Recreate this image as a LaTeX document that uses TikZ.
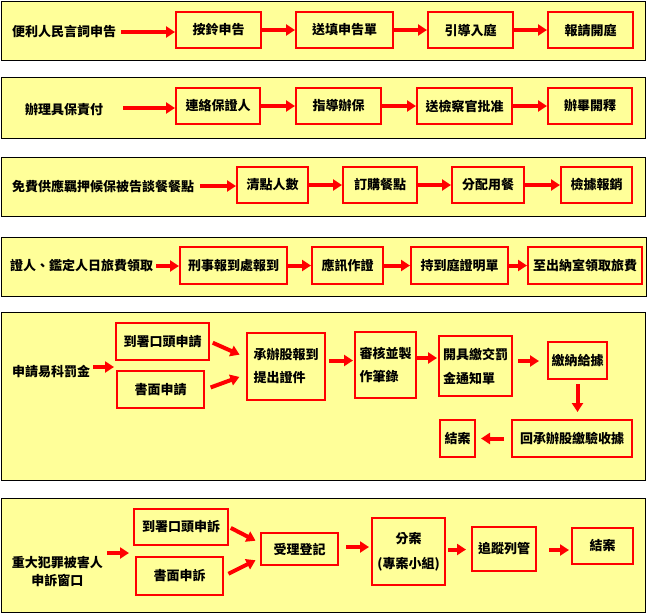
\documentclass[tikz,border=0pt]{standalone}
\usepackage{fontspec}
\setmainfont{Noto Sans CJK TC}
\usetikzlibrary{arrows.meta}
\definecolor{bg}{HTML}{FFFF99}
\definecolor{bx}{HTML}{FF0000}
\begin{document}
\begin{tikzpicture}[x=1pt,y=-1pt,
  frame/.style={draw=black, line width=1pt, fill=bg},
  box/.style={draw=bx, line width=2pt, fill=bg, inner sep=0pt,
    font=\fontsize{13}{16}\selectfont\bfseries},
  ttl/.style={inner sep=0pt, anchor=west, font=\fontsize{13}{16}\selectfont\bfseries},
  arr/.style={draw=bx, line width=4pt, -{Triangle[length=9pt,width=11pt]}},
]
\useasboundingbox (0,0) rectangle (651,614);
\fill[white] (0,0) rectangle (651,614);
% frames
\draw[frame] (1,1) rectangle (645.5,60);
\draw[frame] (1,77) rectangle (645.5,138);
\draw[frame] (1,157) rectangle (645.5,216);
\draw[frame] (1,237) rectangle (646,296);
\draw[frame] (1,312) rectangle (645.5,480);
\draw[frame] (1,498) rectangle (645.5,612);

% band 1
\node[ttl] (t1) at (12,32) {便利人民言詞申告};
\node[box, minimum width=85pt, minimum height=36pt] (b11) at (218.5,30) {按鈴申告};
\node[box, minimum width=97pt, minimum height=36pt] (b12) at (344.5,30) {送填申告單};
\node[box, minimum width=85pt, minimum height=36pt] (b13) at (470.5,30) {引導入庭};
\node[box, minimum width=85pt, minimum height=36pt] (b14) at (590.5,30) {報請開庭};
\draw[arr] ([xshift=5pt]t1.east) -- (t1.east -| b11.west);
\draw[arr] (b11) -- (b12);
\draw[arr] (b12) -- (b13);
\draw[arr] (b13) -- (b14);

% band 2
\node[ttl] (t2) at (25,110) {辦理具保責付};
\node[box, minimum width=84pt, minimum height=36pt] (b21) at (218,106) {連絡保證人};
\node[box, minimum width=85pt, minimum height=36pt] (b22) at (338.5,106) {指導辦保};
\node[box, minimum width=95pt, minimum height=36pt] (b23) at (464.5,106) {送檢察官批准};
\node[box, minimum width=84pt, minimum height=36pt] (b24) at (590,106) {辦畢開釋};
\draw[arr] ([shift={(20pt,2pt)}]t2.east) -- ([yshift=2pt]t2.east -| b21.west);
\draw[arr] (b21) -- (b22);
\draw[arr] (b22) -- (b23);
\draw[arr] (b23) -- (b24);

% band 3
\node[ttl] (t3) at (12,187) {免費供應羈押候保被告談餐餐點};
\node[box, minimum width=71pt, minimum height=36pt] (b31) at (272.5,185) {清點人數};
\node[box, minimum width=74pt, minimum height=36pt] (b32) at (380,185) {訂購餐點};
\node[box, minimum width=72pt, minimum height=36pt] (b33) at (488,185) {分配用餐};
\node[box, minimum width=71pt, minimum height=36pt] (b34) at (596.5,185) {檢據報銷};
\draw[arr] ([shift={(6pt,1pt)}]t3.east) -- ([yshift=1pt]t3.east -| b31.west);
\draw[arr] (b31) -- (b32);
\draw[arr] (b32) -- (b33);
\draw[arr] (b33) -- (b34);

% band 4
\node[ttl] (t4) at (10,266) {證人、鑑定人日旅費領取};
\node[box, minimum width=107pt, minimum height=37pt] (b41) at (233.5,265.5) {刑事報到處報到};
\node[box, minimum width=71pt, minimum height=37pt] (b42) at (347.5,265.5) {應訊作證};
\node[box, minimum width=97pt, minimum height=37pt] (b43) at (459.5,265.5) {持到庭證明單};
\node[box, minimum width=114pt, minimum height=37pt] (b44) at (585,265.5) {至出納室領取旅費};
\draw[arr] ([xshift=3pt]t4.east) -- (t4.east -| b41.west);
\draw[arr] (b41) -- (b42);
\draw[arr] (b42) -- (b43);
\draw[arr] (b43) -- (b44);

% band 5
\node[ttl] (t5) at (12,372) {申請易科罰金};
\coordinate (j5) at (114,367);
\node[box, minimum width=93pt, minimum height=37pt] (a5) at (162.5,341.5) {到署口頭申請};
\node[box, minimum width=87pt, minimum height=37pt] (b5) at (160.5,389.5) {書面申請};
\node[box, minimum width=78pt, minimum height=67pt, align=left,
  font=\fontsize{13}{23}\selectfont\bfseries] (c5) at (286,366.5) {承辦股報到\\提出證件};
\node[box, minimum width=61pt, minimum height=66pt, align=left,
  font=\fontsize{13}{23}\selectfont\bfseries] (d5) at (385.5,365) {審核並製\\作筆錄};
\node[box, minimum width=73pt, minimum height=60pt, align=left,
  font=\fontsize{13}{24}\selectfont\bfseries] (e5) at (475.5,366) {開具繳交罰\\金通知單};
\node[box, minimum width=59pt, minimum height=37pt] (f5) at (577.5,360.5) {繳納給據};
\node[box, minimum width=120pt, minimum height=37pt] (g5) at (572,438.5) {回承辦股繳驗收據};
\node[box, minimum width=35pt, minimum height=37pt] (h5) at (457.5,438.5) {結案};
\draw[arr] ([shift={(3pt,5pt)}]t5.east) -- (j5);
\draw[arr, shorten <=3pt, shorten >=7pt] (a5.east) -- ([yshift=9pt]c5.west);
\draw[arr, shorten <=6pt, shorten >=7pt] (b5.east) -- ([yshift=-8pt]c5.west);
\draw[arr, shorten <=3pt, shorten >=1pt] ([yshift=6pt]c5.east) -- ([yshift=6pt]c5.east -| d5.west);
\draw[arr, shorten >=1pt] ([yshift=7pt]d5.east) -- ([yshift=7pt]d5.east -| e5.west);
\draw[arr, shorten <=5pt, shorten >=8pt] ([yshift=5pt]e5.east) -- ([yshift=5pt]e5.east -| f5.west);
\draw[arr, shorten <=4pt, shorten >=7pt] (f5.south) -- (f5.south |- g5.north);
\draw[arr, shorten <=7pt, shorten >=5pt] (g5.west) -- (h5.east);

% band 6
\node[inner sep=0pt, align=center, font=\fontsize{13}{18}\selectfont\bfseries] (t6) at (57.5,571) {重大犯罪被害人\\申訴窗口};
\coordinate (j6) at (129,553);
\node[box, minimum width=94pt, minimum height=36pt] (a6) at (181,527) {到署口頭申訴};
\node[box, minimum width=87pt, minimum height=38pt] (b6) at (179.5,576) {書面申訴};
\node[box, minimum width=77pt, minimum height=32pt] (c6) at (299.5,549) {受理登記};
\node[box, minimum width=73pt, minimum height=67pt, align=center,
  font=\fontsize{13}{25}\selectfont\bfseries] (d6) at (408.5,551.5) {分案\\(專案小組)};
\node[box, minimum width=64pt, minimum height=44pt] (e6) at (504,549) {追蹤列管};
\node[box, minimum width=61pt, minimum height=36pt] (f6) at (602.5,546) {結案};
\draw[arr] ([shift={(4pt,18pt)}]t6.east) -- (j6);
\draw[arr, shorten <=2pt, shorten >=5pt] (a6.east) -- ([yshift=6pt]c6.west);
\draw[arr, shorten <=5pt, shorten >=5pt] (b6.east) -- ([yshift=-9pt]c6.west);
\draw[arr, shorten <=7pt, shorten >=2pt] ([yshift=2pt]c6.east) -- ([yshift=2pt]c6.east -| d6.west);
\draw[arr, shorten <=2pt, shorten >=5pt] ([yshift=2pt]d6.east) -- ([yshift=2pt]d6.east -| e6.west);
\draw[arr, shorten <=12pt, shorten >=2pt] ([yshift=-1pt]e6.east) -- ([yshift=-1pt]e6.east -| f6.west);
\end{tikzpicture}
\end{document}
